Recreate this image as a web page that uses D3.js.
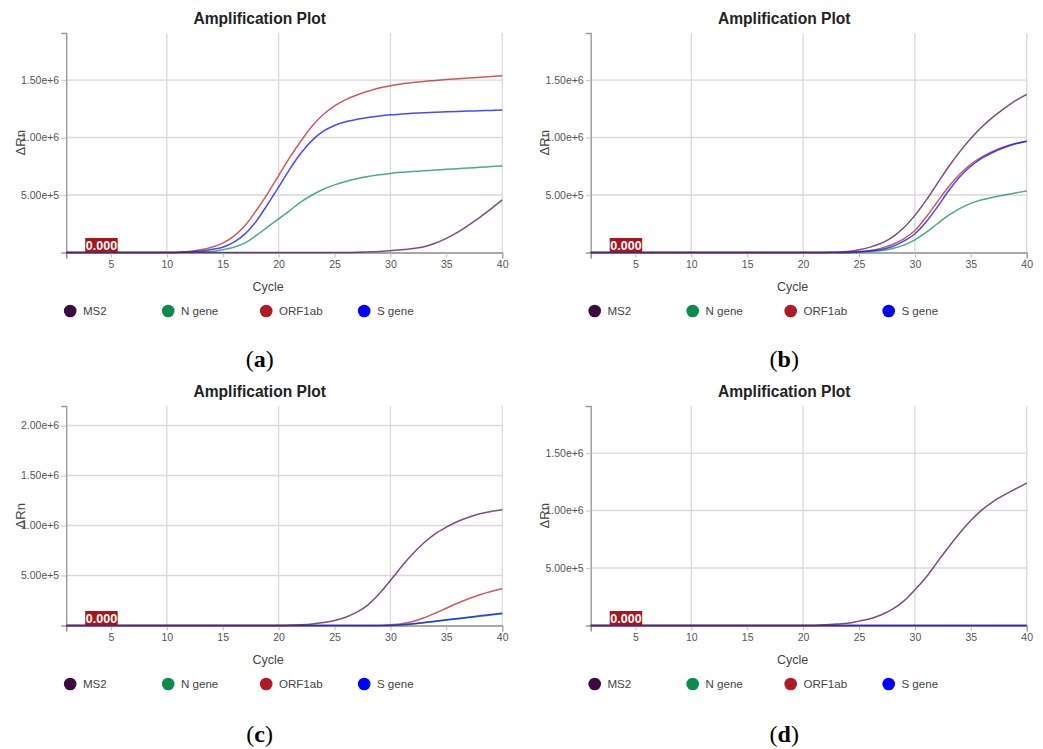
<!DOCTYPE html>
<html>
<head>
<meta charset="utf-8">
<script src="https://cdn.jsdelivr.net/npm/d3@7"></script>
<style>
  html, body { margin: 0; padding: 0; background: #fff; }
  svg { display: block; font-family: "Liberation Sans", Arial, sans-serif; }
</style>
</head>
<body>
<svg id="chart" width="1043" height="749"></svg>
<script>
// ---------- DATA (ΔRn values in units of 1e6) ----------
const cycles = [1,2,3,4,5,6,7,8,9,10,11,12,13,14,15,16,17,18,19,20,21,22,23,24,25,26,27,28,29,30,31,32,33,34,35,36,37,38,39,40];
const targets = ["MS2", "N gene", "ORF1ab", "S gene"];
const xTickValues = [5,10,15,20,25,30,35,40];
const xGridValues = [10,20,30,40];
const yTicksStd = [0.5, 1.0, 1.5];
const yTicksC = [0.5, 1.0, 1.5, 2.0];
const thresholdLabel = "0.000";
const panelLetters = ["a", "b", "c", "d"];

// Panel (a)
const a_MS2    = [0,0,0,0,0,0,0,0,0,0,0,0,0,0,0,0,0,0,0,0,0,0,0,0,0,0,0.002,0.005,0.009,0.016,0.024,0.035,0.05,0.08,0.123,0.175,0.239,0.305,0.38,0.457];
const a_N      = [0,0,0,0,0,0,0,0,0,0,0.001,0.003,0.005,0.009,0.023,0.046,0.084,0.148,0.22,0.292,0.365,0.44,0.5,0.55,0.588,0.618,0.642,0.661,0.676,0.688,0.697,0.704,0.71,0.717,0.723,0.729,0.735,0.741,0.747,0.752];
const a_ORF1ab = [0,0,0,0,0,0,0,0,0,0,0.003,0.009,0.023,0.046,0.081,0.142,0.235,0.365,0.51,0.669,0.828,0.97,1.1,1.2,1.275,1.33,1.37,1.402,1.43,1.45,1.466,1.478,1.488,1.496,1.504,1.511,1.518,1.524,1.53,1.537];
const a_S      = [0,0,0,0,0,0,0,0,0,0,0,0.005,0.012,0.026,0.046,0.09,0.162,0.272,0.417,0.568,0.725,0.865,0.975,1.055,1.105,1.137,1.158,1.174,1.187,1.197,1.204,1.21,1.215,1.22,1.224,1.227,1.23,1.233,1.236,1.239];

// Panel (b)
const b_MS2    = [0,0,0,0,0,0,0,0,0,0,0,0,0,0,0,0,0,0,0,0,0,0.001,0.003,0.009,0.023,0.047,0.081,0.134,0.215,0.323,0.453,0.599,0.744,0.875,0.991,1.093,1.18,1.253,1.32,1.375];
const b_N      = [0,0,0,0,0,0,0,0,0,0,0,0,0,0,0,0,0,0,0,0,0,0,0,0,0.003,0.009,0.017,0.035,0.064,0.11,0.175,0.25,0.322,0.382,0.427,0.458,0.481,0.5,0.518,0.535];
const b_ORF1ab = [0,0,0,0,0,0,0,0,0,0,0,0,0,0,0,0,0,0,0,0,0,0,0,0.003,0.009,0.017,0.038,0.07,0.119,0.192,0.308,0.439,0.57,0.68,0.767,0.831,0.881,0.919,0.948,0.968];
const b_S      = [0,0,0,0,0,0,0,0,0,0,0,0,0,0,0,0,0,0,0,0,0,0,0,0,0.005,0.012,0.026,0.052,0.099,0.163,0.265,0.395,0.535,0.657,0.75,0.82,0.872,0.913,0.945,0.968];

// Panel (c)
const c_MS2    = [0,0,0,0,0,0,0,0,0,0,0,0,0,0,0,0,0,0,0,0,0.003,0.008,0.016,0.03,0.05,0.083,0.133,0.207,0.317,0.45,0.59,0.717,0.827,0.917,0.983,1.04,1.083,1.117,1.14,1.157];
const c_N      = [0,0,0,0,0,0,0,0,0,0,0,0,0,0,0,0,0,0,0,0,0,0,0,0,0,0,0,0,0,0,0.005,0.015,0.027,0.04,0.053,0.066,0.079,0.092,0.105,0.118];
const c_ORF1ab = [0,0,0,0,0,0,0,0,0,0,0,0,0,0,0,0,0,0,0,0,0,0,0,0,0,0,0,0,0,0.007,0.017,0.04,0.077,0.123,0.173,0.223,0.267,0.307,0.34,0.367];
const c_S      = [0,0,0,0,0,0,0,0,0,0,0,0,0,0,0,0,0,0,0,0,0,0,0,0,0,0,0,0,0,0,0.007,0.017,0.03,0.043,0.057,0.07,0.083,0.097,0.11,0.123];

// Panel (d)
const d_MS2    = [0,0,0,0,0,0,0,0,0,0,0,0,0,0,0,0,0,0,0,0,0,0.006,0.012,0.02,0.038,0.058,0.093,0.142,0.212,0.31,0.42,0.551,0.681,0.803,0.913,1.006,1.078,1.136,1.188,1.238];
const d_N      = [0,0,0,0,0,0,0,0,0,0,0,0,0,0,0,0,0,0,0,0,0,0,0,0,0,0,0,0,0,0,0,0,0,0,0,0,0,0,0,0];
const d_ORF1ab = [0,0,0,0,0,0,0,0,0,0,0,0,0,0,0,0,0,0,0,0,0,0,0,0,0,0,0,0,0,0,0,0,0,0,0,0,0,0,0,0];
const d_S      = [0,0,0,0,0,0,0,0,0,0,0,0,0,0,0,0,0,0,0,0,0,0,0,0,0,0,0,0,0,0,0,0,0,0,0,0,0,0,0,0];

// ---------- STYLE / LAYOUT ----------
const legendColors = { "MS2": "#3d0a40", "N gene": "#0c8c4c", "ORF1ab": "#b01a24", "S gene": "#0000ff" };
const lineColors   = { "MS2": "#5a2060", "N gene": "#1a9a5a", "ORF1ab": "#c0303a", "S gene": "#1a1aff" };

const panels = [
  { letter: panelLetters[0], left: 66.2,  top: 33,  bottom: 252.5, yMax: 1.909, yTicks: yTicksStd, series: { "MS2": a_MS2, "N gene": a_N, "ORF1ab": a_ORF1ab, "S gene": a_S } },
  { letter: panelLetters[1], left: 590.7, top: 33,  bottom: 252.5, yMax: 1.909, yTicks: yTicksStd, series: { "MS2": b_MS2, "N gene": b_N, "ORF1ab": b_ORF1ab, "S gene": b_S } },
  { letter: panelLetters[2], left: 66.2,  top: 406, bottom: 625.5, yMax: 2.195, yTicks: yTicksC,   series: { "MS2": c_MS2, "N gene": c_N, "ORF1ab": c_ORF1ab, "S gene": c_S } },
  { letter: panelLetters[3], left: 590.7, top: 406, bottom: 625.5, yMax: 1.909, yTicks: yTicksStd, series: { "MS2": d_MS2, "N gene": d_N, "ORF1ab": d_ORF1ab, "S gene": d_S } }
];
const plotWidth = 436;
const drawOrder = ["N gene", "ORF1ab", "S gene", "MS2"];

const svg = d3.select("#chart");

panels.forEach(p => {
  const g = svg.append("g");
  const x = d3.scaleLinear().domain([1, 40]).range([p.left, p.left + plotWidth]);
  const y = d3.scaleLinear().domain([0, p.yMax]).range([p.bottom, p.top]);

  // grid
  g.append("g").selectAll("line.v").data(xGridValues).join("line")
    .attr("x1", d => x(d)).attr("x2", d => x(d))
    .attr("y1", p.top).attr("y2", p.bottom)
    .attr("stroke", "#d9d9d9").attr("stroke-width", 1.3);
  g.append("g").selectAll("line.h").data(p.yTicks).join("line")
    .attr("x1", p.left).attr("x2", p.left + plotWidth)
    .attr("y1", d => y(d)).attr("y2", d => y(d))
    .attr("stroke", "#d9d9d9").attr("stroke-width", 1.3);

  // y axis
  const yAxis = d3.axisLeft(y).tickValues(p.yTicks)
    .tickSizeInner(5).tickSizeOuter(5).tickPadding(2)
    .tickFormat(d => d3.format(".2e")(d * 1e6));
  const ya = g.append("g").attr("transform", `translate(${p.left},0)`).call(yAxis);
  ya.select(".domain").attr("stroke", "#9a9a9a").attr("stroke-width", 1.4);
  ya.selectAll(".tick line").attr("stroke", "#cfcfcf").attr("stroke-width", 1.3);
  ya.selectAll(".tick text").attr("font-family", "Liberation Sans, Arial, sans-serif")
    .attr("font-size", 10.5).attr("fill", "#555");

  // x axis
  const xAxis = d3.axisBottom(x).tickValues(xTickValues)
    .tickSizeInner(5).tickSizeOuter(6).tickPadding(3);
  const xa = g.append("g").attr("transform", `translate(0,${p.bottom})`).call(xAxis);
  xa.select(".domain").attr("stroke", "#8a8a8a").attr("stroke-width", 1.4);
  xa.selectAll(".tick line").attr("stroke", "#bbb").attr("stroke-width", 1);
  xa.selectAll(".tick text").attr("font-family", "Liberation Sans, Arial, sans-serif")
    .attr("font-size", 10.5).attr("fill", "#555");

  // lines
  const line = d3.line().x((d, i) => x(cycles[i])).y(d => y(d)).curve(d3.curveCatmullRom.alpha(0.5));
  drawOrder.forEach(name => {
    g.append("path").datum(p.series[name])
      .attr("d", line)
      .attr("fill", "none")
      .attr("stroke", lineColors[name])
      .attr("stroke-opacity", 0.8)
      .attr("stroke-width", 1.5);
  });

  // threshold label
  g.append("rect").attr("x", p.left + 19).attr("y", p.bottom - 14.5)
    .attr("width", 32.5).attr("height", 14).attr("fill", "#a8161c");
  g.append("text").attr("x", p.left + 19 + 16.25).attr("y", p.bottom - 3)
    .attr("text-anchor", "middle").attr("font-size", 12.5).attr("font-weight", "bold")
    .attr("fill", "#fff").text(thresholdLabel);

  // title
  g.append("text").attr("x", p.left + 193.5).attr("y", p.top - 9)
    .attr("text-anchor", "middle").attr("font-size", 15.6).attr("font-weight", "bold")
    .attr("fill", "#222").text("Amplification Plot");

  // axis titles
  g.append("text").attr("x", p.left + 202).attr("y", p.bottom + 38.5)
    .attr("text-anchor", "middle").attr("font-size", 12.5).attr("fill", "#444").text("Cycle");
  g.append("text")
    .attr("transform", `translate(${p.left - 41.5},${(p.top + p.bottom) / 2}) rotate(-90)`)
    .attr("text-anchor", "middle").attr("font-size", 13).attr("fill", "#444").text("ΔRn");

  // legend
  const lg = g.append("g").attr("transform", `translate(${p.left + 4},${p.bottom + 58.5})`);
  targets.forEach((name, i) => {
    const item = lg.append("g").attr("transform", `translate(${i * 98},0)`);
    item.append("circle").attr("r", 6.3).attr("fill", legendColors[name]);
    item.append("text").attr("x", 12.7).attr("y", 4).attr("font-size", 11.6)
      .attr("fill", "#444").text(name);
  });

  // panel letter
  const lab = g.append("text").attr("x", p.left + 193.5).attr("y", p.bottom + 114 + (p.top > 100 ? 2 : 0))
    .attr("text-anchor", "middle").attr("font-family", "Liberation Serif, Times New Roman, serif")
    .attr("font-size", 24).attr("fill", "#000");
  lab.append("tspan").text("(");
  lab.append("tspan").attr("font-weight", "bold").text(p.letter);
  lab.append("tspan").text(")");
});
</script>
</body>
</html>
